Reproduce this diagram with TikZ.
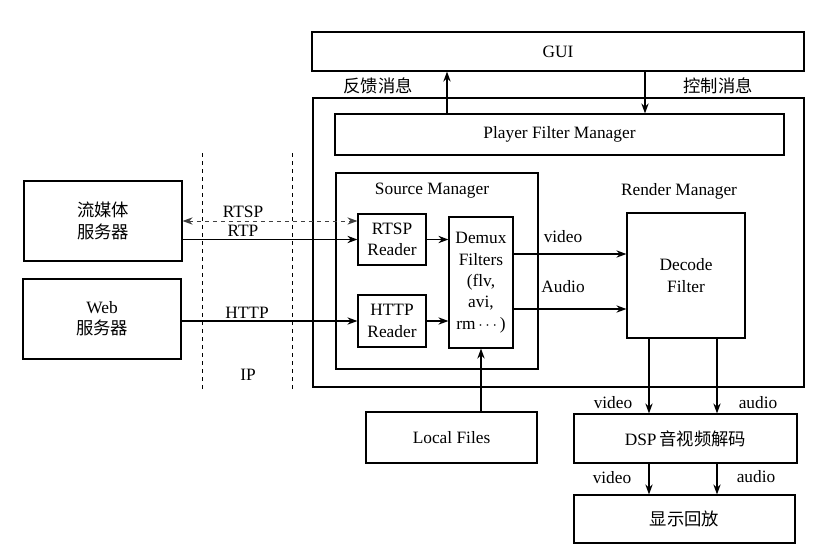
\documentclass[tikz,border=0pt]{standalone}
\usepackage{fontspec}
\setmainfont{Liberation Serif}
\newfontfamily\cjk{Noto Sans CJK SC}
\usepackage{tikz}
\usetikzlibrary{arrows,arrows.meta,positioning}
\tikzset{
    %Define standard arrow tip
    >={Stealth[length=7.5pt,width=5.5pt]},
    %Define style for boxes
    block/.style={
           rectangle,
           draw=black, line width=0.9pt,
           inner sep=0pt,
           align=center,
           font=\fontsize{13}{16}\selectfont},
    % Define style for free labels
    lab/.style={
           inner sep=0pt,
           font=\fontsize{13}{16}\selectfont},
    % Define arrow style
    pil/.style={
           ->,
           line width=0.9pt,
           shorten <=0pt,
           shorten >=0pt,}
}
\begin{document}
\begin{tikzpicture}[x=0.75pt,y=-0.75pt,line width=0.9pt]
\useasboundingbox (0,0) rectangle (829,551);
% boxes
\node[block, minimum width=368.25pt, minimum height=216.75pt](player) at (558.5,242.5){};
\node[block, minimum width=369pt, minimum height=29.25pt](gui) at (558,51.5){GUI};
\node[block, minimum width=336.75pt, minimum height=30.75pt](pfm) at (559.5,134.5){Player Filter Manager};
\node[block, minimum width=118.5pt, minimum height=60pt](stream) at (103,221){{\cjk 流媒体}\\{\cjk 服务器}};
\node[block, minimum width=118.5pt, minimum height=60pt](web) at (102,319){Web\\{\cjk 服务器}};
\node[block, minimum width=151.5pt, minimum height=147pt](source) at (437,271){};
\node[block, minimum width=51pt, minimum height=38.25pt](rtsp) at (392,239.5){RTSP\\Reader};
\node[block, minimum width=51pt, minimum height=39pt](http) at (392,321){HTTP\\Reader};
\node[block, minimum width=48pt, minimum height=98.25pt](demux) at (481,282.5){Demux\\Filters\\(flv,\\avi,\\rm\,$\cdots$\,)};
\node[block, minimum width=88.5pt, minimum height=93.75pt](decode) at (686,275.5){Decode\\Filter};
\node[block, minimum width=128.25pt, minimum height=38.25pt](local) at (451.5,437.5){Local Files};
\node[block, minimum width=167.25pt, minimum height=36.75pt](dsp) at (685.5,438.5){DSP\,{\cjk 音视频解码}};
\node[block, minimum width=165.75pt, minimum height=36pt](show) at (684.5,519){{\cjk 显示回放}};
% labels
\node[lab](fblab) at (378,86){\cjk 反馈消息};
\node[lab](ctlab) at (718,86){\cjk 控制消息};
\node[lab](srclab) at (432,191){Source Manager};
\node[lab](rndlab) at (679,191){Render Manager};
\node[lab](rtsplab) at (243,212){RTSP};
\node[lab](rtplab) at (243,231){RTP};
\node[lab](httplab) at (247,313){HTTP};
\node[lab](iplab) at (248,375){IP};
\node[lab](vlab) at (563,237){video};
\node[lab](alab) at (563,287){Audio};
\node[lab](v1lab) at (613,403){video};
\node[lab](a1lab) at (758,403){audio};
\node[lab](v2lab) at (612,478){video};
\node[lab](a2lab) at (756,477){audio};
% IP layer
\draw[dashed, line width=0.7pt] (202,153) -- (202,390);
\draw[dashed, line width=0.7pt] (292,153) -- (292,390);
% helper coordinates
\coordinate (fb) at (447,0);
\coordinate (ct) at (645,0);
\coordinate (vid) at (0,254);
\coordinate (aud) at (0,309);
\coordinate (va) at (649,0);
\coordinate (aa) at (717,0);
% connectors
\draw[pil] (pfm.north -| fb) -- (gui.south -| fb);
\draw[pil] (gui.south -| ct) -- (pfm.north -| ct);
\draw[pil, <->, dashed, line width=0.7pt, draw=black!75] (stream.east) -- (rtsp.west |- stream.east);
\draw[pil] (stream.east |- rtsp.west) -- (rtsp.west);
\draw[pil] (web.east |- http.west) -- (http.west);
\draw[pil] (rtsp.east) -- (rtsp.east -| demux.west);
\draw[pil] (http.east) -- (http.east -| demux.west);
\draw[pil] (demux.east |- vid) -- (decode.west |- vid);
\draw[pil] (demux.east |- aud) -- (decode.west |- aud);
\draw[pil] (local.north -| demux.south) -- (demux.south);
\draw[pil] (decode.south -| va) -- (dsp.north -| va);
\draw[pil] (decode.south -| aa) -- (dsp.north -| aa);
\draw[pil] (dsp.south -| va) -- (show.north -| va);
\draw[pil] (dsp.south -| aa) -- (show.north -| aa);
\end{tikzpicture}
\end{document}
